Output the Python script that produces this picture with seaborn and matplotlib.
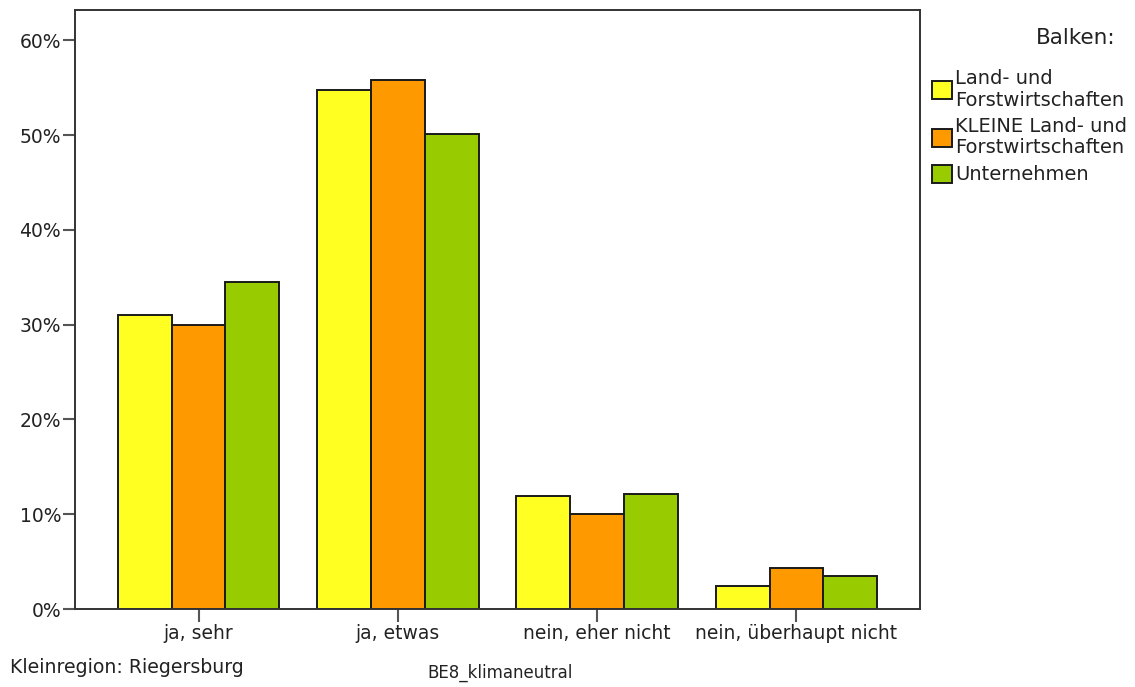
import numpy as np
import pandas as pd
import seaborn as sns
import matplotlib.pyplot as plt
from matplotlib.patches import Patch
from matplotlib.ticker import PercentFormatter

# data (percent)
categories = ["ja, sehr", "ja, etwas", "nein, eher nicht", "nein, überhaupt nicht"]
groups = ["Land- und\nForstwirtschaften", "KLEINE Land- und\nForstwirtschaften", "Unternehmen"]
land_forst = [31.0, 54.8, 11.9, 2.4]
kleine_land_forst = [30.0, 55.8, 10.0, 4.3]
unternehmen = [34.5, 50.1, 12.1, 3.5]
colors = ["#ffff22", "#ff9900", "#99cc00"]

df = pd.DataFrame({
    "Kategorie": categories * 3,
    "Gruppe": [g for g in groups for _ in categories],
    "Prozent": land_forst + kleine_land_forst + unternehmen,
})

sns.set_style("white")
plt.rcParams['font.family'] = ['DejaVu Sans']

fig = plt.figure(figsize=(11.35, 6.87), dpi=100)
ax = fig.add_axes([0.0661, 0.1135, 0.7445, 0.8719])

sns.barplot(data=df, x="Kategorie", y="Prozent", hue="Gruppe", order=categories,
            hue_order=groups, palette=colors, width=0.81, edgecolor="#1a1a1a",
            linewidth=1.4, saturation=1, legend=False, ax=ax)

ax.set_xlim(-0.62, 3.62)
ax.set_ylim(0, 63.2)
ax.set_yticks([0, 10, 20, 30, 40, 50, 60])
ax.yaxis.set_major_formatter(PercentFormatter(decimals=0))
ax.set_xlabel("")
ax.set_ylabel("")
ax.tick_params(axis="both", direction="out", length=9, width=1.5, color="#555555",
               labelsize=13.5, labelcolor="#222222", bottom=True, left=True)
ax.tick_params(axis="x", pad=2)
ax.tick_params(axis="y", pad=1)
for s in ax.spines.values():
    s.set_visible(True)
    s.set_color("#333333")
    s.set_linewidth(1.4)

# legend on the right
handles = [Patch(facecolor=c, edgecolor="#1a1a1a", linewidth=1.4) for c in colors]
fig.text(0.9824, 0.9447, "Balken:", ha="right", va="center", fontsize=15.5, color="#222222")
leg = fig.legend(handles, groups, loc="upper left", bbox_to_anchor=(0.821, 0.899),
                 frameon=False, fontsize=14, handlelength=1.05, handleheight=1.05,
                 handletextpad=0.15, labelspacing=0.38, borderaxespad=0, borderpad=0)
for t in leg.get_texts():
    t.set_linespacing(1.15)
    t.set_color("#222222")

fig.text(0.009, 0.028, "Kleinregion: Riegersburg", ha="left", va="center",
         fontsize=13.6, color="#222222")
fig.text(0.4405, 0.0204, "BE8_klimaneutral", ha="center", va="center",
         fontsize=12, color="#222222", family=["Liberation Sans Narrow", "DejaVu Sans"])

fig.savefig("out.png", dpi=100)
